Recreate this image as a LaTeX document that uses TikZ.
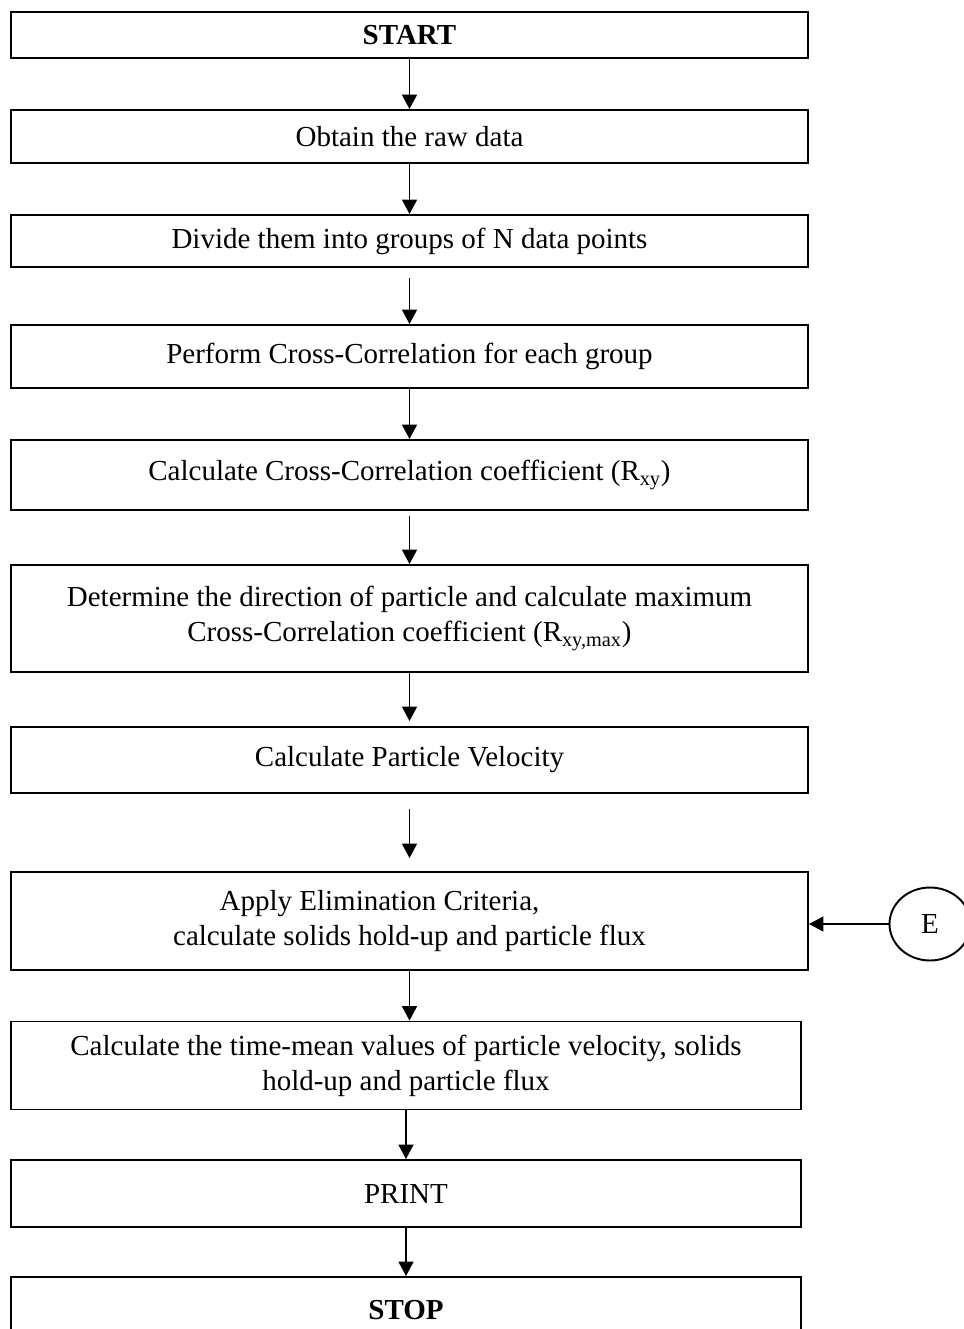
\documentclass[tikz,border=0pt]{standalone}
\usepackage{fontspec}
\setmainfont{Liberation Serif}
\usepackage{tikz}
\usetikzlibrary{arrows.meta, shapes.geometric}

\begin{document}
\begin{tikzpicture}[font=\fontsize{16.5}{20}\selectfont,
  bx/.style={draw, line width=1.1pt, align=center, inner sep=0pt,
             minimum width=15.94cm},
  bxn/.style={bx, minimum width=15.80cm},
  con/.style={draw, ellipse, line width=1.1pt, minimum width=1.62cm,
              minimum height=1.46cm, inner sep=0pt},
  arr/.style={-{Triangle[length=2.9mm, width=3mm]}, line width=1pt}]

\useasboundingbox (0,0) rectangle (19.28,-26.58);

\node[bx, minimum height=0.92cm] (start) at (8.19, -0.70)  {\textbf{START}};
\node[bx, minimum height=1.06cm] (raw)   at (8.19, -2.73)  {Obtain the raw data};
\node[bx, minimum height=1.04cm] (grp)   at (8.19, -4.82)  {Divide them into groups of N data points};
\node[bx, minimum height=1.26cm] (cc)    at (8.19, -7.13)  {Perform Cross-Correlation for each group};
\node[bx, minimum height=1.40cm] (rxy)   at (8.19, -9.50)  {Calculate Cross-Correlation coefficient (R\textsubscript{xy})};
\node[bx, minimum height=2.14cm] (dir)   at (8.19, -12.37) {Determine the direction of particle and calculate maximum\\
  Cross-Correlation coefficient (R\textsubscript{xy,max})};
\node[bx, minimum height=1.32cm] (vel)   at (8.19, -15.20) {Calculate Particle Velocity};
\node[bx, minimum height=1.96cm] (elim)  at (8.19, -18.42) {Apply Elimination Criteria,\hspace*{1.2cm}\\
  calculate solids hold-up and particle flux};
\node[bxn, minimum height=1.76cm] (mean) at (8.12, -21.31) {Calculate the time-mean values of particle velocity, solids\\
  hold-up and particle flux};
\node[bxn, minimum height=1.34cm] (prt)  at (8.12, -23.87) {PRINT};
\node[bxn, minimum height=1.34cm] (stop) at (8.12, -26.21) {\textbf{STOP}};

\node[con] (e) at (18.60, -18.48) {E};

\draw[arr] (start) -- (raw);
\draw[arr] (raw) -- (grp);
\draw[arr, shorten <=0.2cm] (grp) -- (cc);
\draw[arr] (cc) -- (rxy);
\draw[arr, shorten <=0.1cm] (rxy) -- (dir);
\draw[arr, shorten >=0.1cm] (dir) -- (vel);
\draw[arr, shorten <=0.3cm, shorten >=0.26cm] (vel) -- (elim);
\draw[arr] (elim) -- (elim.south |- mean.north);
\draw[arr] (mean) -- (prt);
\draw[arr] (prt) -- (stop);
\draw[arr] (e.west) -- (e.west -| elim.east);
\end{tikzpicture}
\end{document}
